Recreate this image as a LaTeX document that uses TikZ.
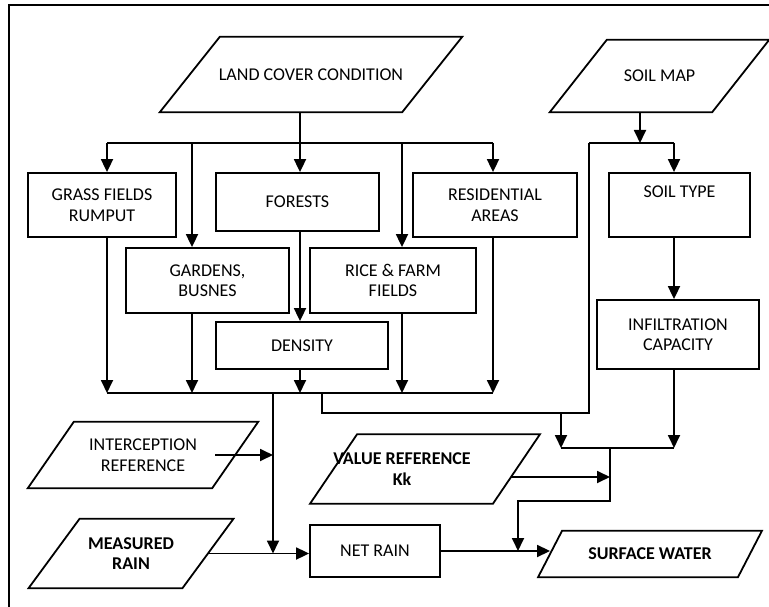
\documentclass[tikz,border=0pt]{standalone}
\usepackage{fontspec}
\setmainfont{Carlito}
\usetikzlibrary{positioning, arrows.meta, calc}

\newcommand{\lbl}{\fontsize{18}{20.5}\selectfont}
% slanted outline round a data node: [x offset]{node}{half slant}
\newcommand{\paraframe}[3][0]{%
  \draw[line] ([xshift=#1-#3]#2.south west) -- ([xshift=#1+#3]#2.north west)
    -- ([xshift=#1+#3]#2.north east) -- ([xshift=#1-#3]#2.south east) -- cycle;}

\begin{document}
\begin{tikzpicture}[
    x=1pt, y=-1pt,
    line/.style={line width=1.8pt},
    arrow/.style={line, -{Triangle[length=13pt, width=12pt]}},
    box/.style={draw, line, align=center, font=\lbl, inner sep=0pt},
    data/.style={align=center, font=\lbl, inner sep=0pt},
]
\useasboundingbox (0,0) rectangle (769,607);

% Frame
\draw[line] (9,607) |- (769,5);

% ========== INPUT MAPS ==========
\node[data, minimum width=242, minimum height=75] (lc) at (311,74.5) {LAND COVER CONDITION};
\paraframe{lc}{30}
\node[data, minimum width=162, minimum height=72] (soilmap) at (659.5,76) {SOIL MAP};
\paraframe{soilmap}{28.5}

% Land cover classes
\node[box, minimum width=148, minimum height=64] (grass) at (102,205) {GRASS FIELDS\\RUMPUT};
\node[box, minimum width=163, minimum height=58] (forests) at (297.5,202) {FORESTS};
\node[box, minimum width=164, minimum height=64] (resid) at (495,205) {RESIDENTIAL\\AREAS};
\node[box, minimum width=163, minimum height=65] (gardens) at (207.5,280.5) {GARDENS,\\BUSNES};
\node[box, minimum width=166, minimum height=65] (rice) at (393,280.5) {RICE \& FARM\\FIELDS};
\node[box, minimum width=172, minimum height=47] (density) at (302,345.5) {DENSITY};

% Soil
\node[box, minimum width=141, minimum height=64] (soiltype) at (679.5,205) {SOIL TYPE\\\strut};
\node[box, minimum width=162, minimum height=69] (infil) at (678,334.5) {INFILTRATION\\CAPACITY};

% ========== RAIN ==========
\node[data, minimum width=184, minimum height=66] (intercept) at (143,455) {INTERCEPTION\\REFERENCE};
\paraframe{intercept}{23}
\node[data, font=\lbl\bfseries, minimum width=153.5, minimum height=69] (measured) at (131,553.5) {MEASURED\\RAIN};
\paraframe{measured}{25.5}
\node[data, font=\lbl\bfseries, minimum width=182.5, minimum height=69] (valueref) at (402,469) {VALUE REFERENCE\\Kk};
\paraframe[23]{valueref}{23.5}
\node[box, minimum width=130, minimum height=52] (netrain) at (375,551) {NET RAIN};
\node[data, font=\lbl\bfseries, minimum width=199.5, minimum height=46] (surface) at (650,554) {SURFACE WATER};
\paraframe{surface}{12}

% Land cover split
\coordinate (t1) at (107,143);
\coordinate (t2) at (192,143);
\coordinate (t3) at (300,143);
\coordinate (t4) at (402,143);
\coordinate (t5) at (493,143);
\coordinate (lowbus) at (0,393);
\draw[line] (lc.south -| t3) -- (t3);
\draw[line] (t1) -- (t5);
\draw[arrow] (t1) -- (t1 |- grass.north);
\draw[arrow] (t2) -- (t2 |- gardens.north);
\draw[arrow] (t3) -- (t3 |- forests.north);
\draw[arrow] (t4) -- (t4 |- rice.north);
\draw[arrow] (t5) -- (t5 |- resid.north);

% Land cover merge
\draw[arrow] (grass.south -| t1) -- (t1 |- lowbus);
\draw[arrow] (gardens.south -| t2) -- (t2 |- lowbus);
\draw[arrow] (forests.south -| t3) -- (t3 |- density.north);
\draw[arrow] (density.south -| t3) -- (t3 |- lowbus);
\draw[arrow] (rice.south -| t4) -- (t4 |- lowbus);
\draw[arrow] (resid.south -| t5) -- (t5 |- lowbus);
\draw[line] (t1 |- lowbus) -- (t5 |- lowbus);

% Soil map split
\coordinate (sbus) at (640,143);
\coordinate (s1) at (589,143);
\coordinate (s2) at (674,143);
\draw[arrow] (soilmap.south -| sbus) -- (sbus);
\draw[line] (s1) -- (s2);
\draw[arrow] (s2) -- (s2 |- soiltype.north);
\draw[arrow] (soiltype.south -| s2) -- (s2 |- infil.north);

% Runoff coefficient
\coordinate (mix) at (322,413);
\coordinate (k1) at (561,448);
\coordinate (k2) at (610,448);
\coordinate (k3) at (518,501);
\draw[line] (mix |- lowbus) -- (mix) -- (s1 |- mix) -- (s1);
\draw[arrow] (k1 |- mix) -- (k1);
\draw[arrow] (infil.south -| s2) -- (s2 |- k1);
\draw[line] (k1) -- (s2 |- k1);
\draw[arrow] ([shift={(18,8)}]valueref.east) coordinate (vr) -- (vr -| k2);
\draw[arrow] (k2) -- (k2 |- k3) -- (k3) -- (k3 |- netrain.east);

% Net rain
\coordinate (netbus) at (273,393);
\draw[arrow] (netbus) -- (netbus |- measured.east);
\draw[arrow] ([xshift=-20]intercept.east) -- (intercept.east -| netbus);
\draw[arrow] (measured.east) -- (measured.east -| netrain.west);
\draw[arrow] (netrain.east) -- (netrain.east -| surface.west);

\end{tikzpicture}
\end{document}
